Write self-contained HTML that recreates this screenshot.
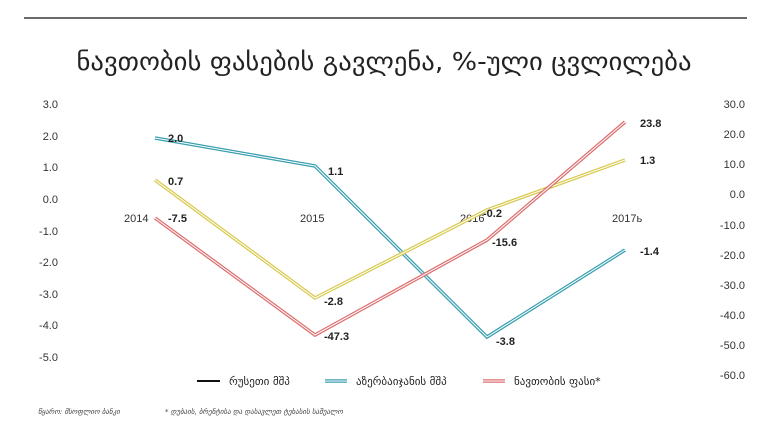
<!DOCTYPE html>
<html><head><meta charset="utf-8"><style>
body{margin:0;background:#fff;}
svg{display:block;font-family:"Liberation Sans","DejaVu Sans",sans-serif;}
</style></head><body>
<svg width="769" height="421" viewBox="0 0 769 421">
<line x1="24" y1="18" x2="747" y2="18" stroke="#111" stroke-width="1.2"/>
<text x="384" y="70" text-anchor="middle" font-size="25" fill="#222" font-family="DejaVu Sans, sans-serif" textLength="615" lengthAdjust="spacingAndGlyphs">ნავთობის ფასების გავლენა, %-ული ცვლილება</text>
<g font-size="11" fill="#333" text-anchor="end">
<text x="58" y="108">3.0</text><text x="58" y="140">2.0</text><text x="58" y="171">1.0</text><text x="58" y="203">0.0</text><text x="58" y="235">-1.0</text><text x="58" y="266">-2.0</text><text x="58" y="298">-3.0</text><text x="58" y="329">-4.0</text><text x="58" y="361">-5.0</text>
</g>
<g font-size="11" fill="#333" text-anchor="end">
<text x="745" y="108">30.0</text><text x="745" y="138">20.0</text><text x="745" y="168">10.0</text><text x="745" y="198">0.0</text><text x="745" y="229">-10.0</text><text x="745" y="259">-20.0</text><text x="745" y="289">-30.0</text><text x="745" y="319">-40.0</text><text x="745" y="349">-50.0</text><text x="745" y="379">-60.0</text>
</g>
<g font-size="11" fill="#333">
<text x="124" y="222">2014</text><text x="300" y="222">2015</text><text x="460" y="222">2016</text><text x="612" y="222">2017ь</text>
</g>
<g fill="none" stroke-linejoin="miter">
<polyline points="155,138 315,166 487,337 625,250" stroke="#3a9fb0" stroke-width="3.5"/>
<polyline points="155,138 315,166 487,337 625,250" stroke="#fff" stroke-width="1"/>
<polyline points="155,180 315,298 487,210 625,160" stroke="#d8c94e" stroke-width="3.5"/>
<polyline points="155,180 315,298 487,210 625,160" stroke="#fff" stroke-width="1"/>
<polyline points="155,218 315,335 487,240 625,122" stroke="#dc6f70" stroke-width="3.5"/>
<polyline points="155,218 315,335 487,240 625,122" stroke="#fff" stroke-width="1"/>
</g>
<g font-size="11" font-weight="bold" fill="#222">
<text x="168" y="142">2.0</text><text x="328" y="175">1.1</text><text x="496" y="345">-3.8</text><text x="640" y="255">-1.4</text>
<text x="168" y="185">0.7</text><text x="324" y="305">-2.8</text><text x="483" y="217">-0.2</text><text x="640" y="164">1.3</text>
<text x="168" y="222">-7.5</text><text x="324" y="340">-47.3</text><text x="492" y="246">-15.6</text><text x="640" y="127">23.8</text>
</g>
<line x1="197" y1="381" x2="220" y2="381" stroke="#111" stroke-width="2"/>
<text x="229" y="385" font-size="11" fill="#222" font-family="DejaVu Sans, sans-serif">რუსეთი მშპ</text>
<line x1="325" y1="381" x2="347" y2="381" stroke="#3a9fb0" stroke-width="3.5"/><line x1="325" y1="381" x2="347" y2="381" stroke="#fff" stroke-width="1"/>
<text x="356" y="385" font-size="11" fill="#222" font-family="DejaVu Sans, sans-serif">აზერბაიჯანის მშპ</text>
<line x1="483" y1="381" x2="505" y2="381" stroke="#dc6f70" stroke-width="3.5"/><line x1="483" y1="381" x2="505" y2="381" stroke="#fff" stroke-width="1"/>
<text x="514" y="385" font-size="11" fill="#222" font-family="DejaVu Sans, sans-serif">ნავთობის ფასი*</text>
<text x="38" y="414" font-size="7" font-style="italic" fill="#444" font-family="DejaVu Sans, sans-serif">წყარო: მსოფლიო ბანკი</text>
<text x="165" y="414" font-size="7" font-style="italic" fill="#444" font-family="DejaVu Sans, sans-serif">* დუბაის, ბრენტისა და დასავლეთ ტეხასის საშუალო</text>
</svg>
</body></html>
